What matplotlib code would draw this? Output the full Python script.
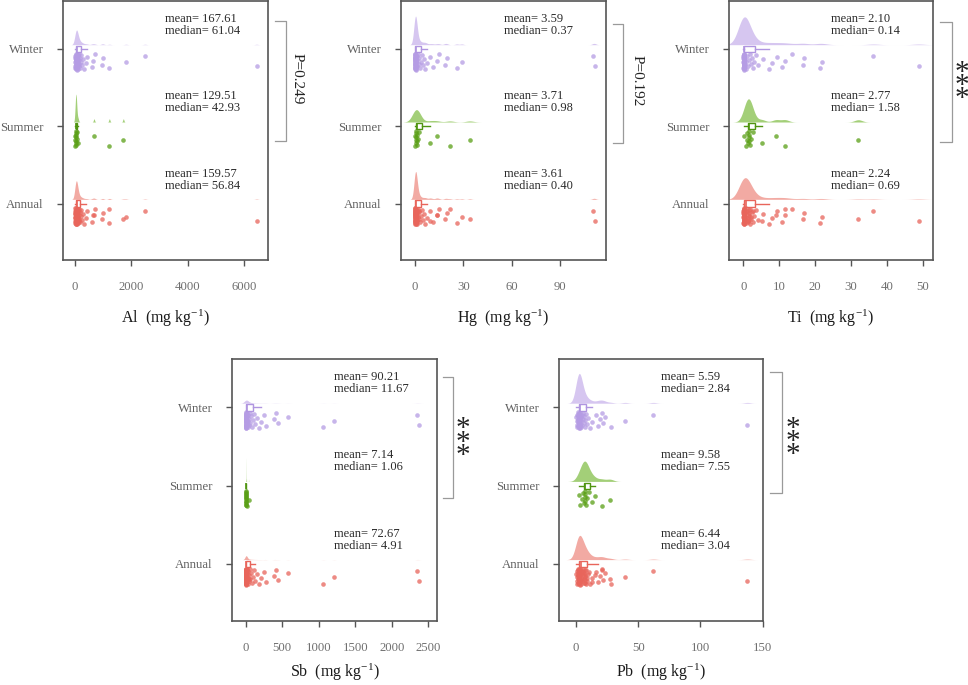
import numpy as np
import matplotlib
matplotlib.use("Agg")
import matplotlib.pyplot as plt
from matplotlib.transforms import blended_transform_factory

plt.rcParams['font.family'] = ['Liberation Serif', 'DejaVu Serif']
plt.rcParams['mathtext.fontset'] = 'custom'
plt.rcParams['mathtext.rm'] = 'Liberation Serif'
plt.rcParams['mathtext.it'] = 'Liberation Serif:italic'

# ---------------- data (read / estimated from the picture) ----------------
groups = ["Annual", "Summer", "Winter"]

al_winter = [5, 8, 12, 15, 18, 20, 22, 25, 28, 30, 33, 35, 38, 40, 42, 45, 48, 50, 52, 55,
             58, 60, 61, 62, 65, 68, 70, 72, 75, 78, 80, 85, 90, 95, 100, 105, 110, 120, 130, 140,
             150, 160, 175, 190, 210, 230, 250, 280, 320, 380, 440, 600, 650, 710, 970, 990,
             1220, 1810, 2485, 6450]
al_summer = [6, 12, 18, 25, 30, 36, 40, 42, 44, 50, 60, 75, 110, 675, 1220, 1716]

hg_winter = [0.01, 0.02, 0.03, 0.05, 0.06, 0.08, 0.09, 0.10, 0.12, 0.13, 0.15, 0.16, 0.18, 0.19,
             0.20, 0.22, 0.23, 0.25, 0.26, 0.28, 0.29, 0.30, 0.31, 0.32, 0.33, 0.34, 0.35, 0.35,
             0.36, 0.37, 0.38, 0.40, 0.45, 0.50, 0.60, 0.70, 0.80, 1.0, 1.2, 1.5, 1.8, 2.2, 2.6,
             3.0, 3.5, 4.2, 5.0, 5.8, 6.5, 7.2, 9.3, 11.0, 13.4, 15.0, 18.6, 19.7, 25.9, 29.0,
             110.7, 111.7]
hg_summer = [0.1, 0.2, 0.4, 0.5, 0.7, 0.8, 0.9, 0.98, 1.0, 1.3, 1.8, 2.5, 9.3, 13.4, 21.7, 34.0]

ti_winter = [0.01, 0.02, 0.02, 0.03, 0.04, 0.04, 0.05, 0.05, 0.06, 0.07, 0.07, 0.08, 0.08, 0.09,
             0.09, 0.10, 0.10, 0.11, 0.11, 0.12, 0.12, 0.12, 0.13, 0.13, 0.13, 0.14, 0.14, 0.14,
             0.14, 0.14, 0.15, 0.2, 0.3, 0.4, 0.5, 0.6, 0.8, 1.0, 1.2, 1.5, 1.8, 2.0, 2.3, 2.6,
             3.0, 3.5, 4.0, 5.6, 7.0, 7.9, 9.3, 10.7, 11.6, 13.5, 16.5, 16.9, 21.4, 21.8, 36.2, 48.8]
ti_summer = [0.3, 0.6, 0.9, 1.1, 1.3, 1.5, 1.55, 1.6, 1.7, 1.9, 2.2, 2.8, 5.1, 9.1, 11.6, 32.0]

sb_winter = [0.3, 0.6, 1.0, 1.5, 2.0, 2.5, 3.0, 3.5, 4.0, 4.5, 5.0, 5.5, 6.0, 6.5, 7.0, 7.5, 8.0,
             8.5, 9.0, 9.5, 10.0, 10.3, 10.6, 10.9, 11.1, 11.3, 11.4, 11.5, 11.6, 11.65, 11.7, 13,
             15, 18, 22, 26, 30, 35, 40, 48, 55, 65, 75, 90, 95, 110, 130, 150, 180, 210, 254,
             276, 387, 409, 445, 578, 1063, 1210, 2344, 2367]
sb_summer = [0.1, 0.2, 0.4, 0.6, 0.8, 0.9, 1.0, 1.05, 1.07, 1.2, 1.5, 2.0, 3.5, 8.0, 25.0, 50.0]

pb_winter = [0.3, 0.5, 0.7, 0.9, 1.0, 1.2, 1.3, 1.5, 1.6, 1.7, 1.8, 1.9, 2.0, 2.1, 2.2, 2.3, 2.4,
             2.5, 2.55, 2.6, 2.65, 2.7, 2.72, 2.75, 2.78, 2.8, 2.82, 2.83, 2.84, 2.84, 2.9, 3.0,
             3.2, 3.4, 3.6, 3.9, 4.2, 4.5, 4.8, 5.2, 5.6, 6.0, 6.5, 7.0, 7.6, 8.2, 9.0, 10.0,
             11.5, 13.0, 16.0, 18.0, 19.3, 20.6, 22.0, 23.3, 27.9, 39.4, 62.1, 137.7]
pb_summer = [2.0, 3.5, 4.5, 5.5, 6.2, 6.8, 7.2, 7.5, 7.6, 8.0, 9.0, 10.5, 12.5, 15.0, 20.6, 27.3]

elements = ["Al", "Hg", "Ti", "Sb", "Pb"]
winter_data = [al_winter, hg_winter, ti_winter, sb_winter, pb_winter]
summer_data = [al_summer, hg_summer, ti_summer, sb_summer, pb_summer]

means = {  # [Annual, Summer, Winter]
    "Al": ["159.57", "129.51", "167.61"],
    "Hg": ["3.61", "3.71", "3.59"],
    "Ti": ["2.24", "2.77", "2.10"],
    "Sb": ["72.67", "7.14", "90.21"],
    "Pb": ["6.44", "9.58", "5.59"],
}
medians = {
    "Al": ["56.84", "42.93", "61.04"],
    "Hg": ["0.40", "0.98", "0.37"],
    "Ti": ["0.69", "1.58", "0.14"],
    "Sb": ["4.91", "1.06", "11.67"],
    "Pb": ["3.04", "7.55", "2.84"],
}
sig_labels = ["P=0.249", "P=0.192", "***", "***", "***"]
x_ticks = [[0, 2000, 4000, 6000], [0, 30, 60, 90], [0, 10, 20, 30, 40, 50],
           [0, 500, 1000, 1500, 2000, 2500], [0, 50, 100, 150]]

# ---------------- styling ----------------
W, H = 968, 685
fig = plt.figure(figsize=(W / 100, H / 100), dpi=100)

axes_px = [(63, 1, 268, 260), (401, 1, 606, 260), (729, 1, 933, 260),
           (232, 359, 437, 621), (559, 359, 763, 621)]
xlims = [(-426, 6856), (-8.7, 118.6), (-4.0, 52.8), (-187, 2620), (-13.7, 150.3)]
# peak heights of the half-violins (data units) for [Annual, Summer, Winter]
peak_h = [[0.24, 0.36, 0.19], [0.36, 0.16, 0.37], [0.28, 0.30, 0.36],
          [0.05, 0.30, 0.04], [0.31, 0.26, 0.38]]
# bandwidth multipliers for [Annual, Summer, Winter]
bw_adj = [[1.0, 1.0, 1.0], [1.0, 1.8, 1.0], [1.8, 1.3, 1.8],
          [1.0, 1.0, 1.0], [1.5, 1.5, 1.5]]
bracket = [(1.088, 1.034, 3.36, 1.81, 1.141, 2.615),
           (1.083, 1.034, 3.32, 1.78, 1.151, 2.59),
           (1.093, 1.034, 3.35, 1.795, 1.143, 2.52),
           (1.078, 1.029, 3.385, 1.846, 1.127, 2.55),
           (1.093, 1.034, 3.45, 1.91, 1.147, 2.56)]

dens_col = ["#f2aaa3", "#a3cf78", "#d6c6f0"]
pt_col = ["#e8655b", "#5a9f16", "#b59ce4"]
box_edge = ["#e8655b", "#4f9410", "#b095e0"]
frame_col = "#555555"


def nrd0(x):
    x = np.asarray(x, float)
    sd = x.std(ddof=1)
    iqr = np.subtract(*np.percentile(x, [75, 25]))
    lo = min(sd, iqr / 1.34) if iqr > 0 else sd
    return 0.9 * lo * len(x) ** (-0.2)


def kde(x, grid, bw):
    x = np.asarray(x, float)
    z = (grid[:, None] - x[None, :]) / bw
    return np.exp(-0.5 * z ** 2).sum(axis=1) / (len(x) * bw * np.sqrt(2 * np.pi))


for k, el in enumerate(elements):
    l, t, r, b = axes_px[k]
    ax = fig.add_axes([l / W, 1 - b / H, (r - l) / W, (b - t) / H])
    w = np.asarray(winter_data[k], float)
    s = np.asarray(summer_data[k], float)
    data = [np.concatenate([w, s]), s, w]
    for gi, vals in enumerate(data):
        y = gi + 1
        bw = nrd0(vals) * bw_adj[k][gi]
        grid = np.linspace(vals.min() - 3 * bw, vals.max() + 3 * bw, 2000)
        d = kde(vals, grid, bw)
        d = d / d.max() * peak_h[k][gi]
        base = y + 0.055
        ax.fill_between(grid, base, base + d, color=dens_col[gi], lw=0, zorder=2)
        bp = ax.boxplot(vals, positions=[y], vert=False, widths=0.08, showfliers=False,
                        showcaps=False, patch_artist=True, manage_ticks=False, whis=1.5)
        for p in bp['boxes']:
            p.set(facecolor=(1, 1, 1, 0.35), edgecolor=box_edge[gi], linewidth=1.0, zorder=4)
        for wl in bp['whiskers']:
            wl.set(color=box_edge[gi], linewidth=1.0, zorder=4)
        for m in bp['medians']:
            m.set(color=box_edge[gi], linewidth=1.2, zorder=4)
        n = len(vals)
        jit = (np.arange(n) * 0.61803398875 + 0.3) % 1.0
        ax.scatter(vals, y - 0.06 - 0.21 * jit, s=11, color=pt_col[gi], alpha=0.75,
                   linewidths=0, zorder=3)
        ax.text(0.5, y + 0.31, f"mean= {means[el][gi]}\nmedian= {medians[el][gi]}",
                transform=blended_transform_factory(ax.transAxes, ax.transData),
                ha='left', va='center', fontsize=9, color='#2a2a2a', linespacing=1.0)

    ax.set_xlim(*xlims[k])
    ax.set_ylim(0.27, 3.62)
    ax.set_xticks(x_ticks[k])
    ax.set_yticks([1, 2, 3])
    ax.set_yticklabels(groups)
    for sp in ax.spines.values():
        sp.set_color(frame_col)
        sp.set_linewidth(1.2)
    ax.tick_params(axis='x', length=4, width=1, color=frame_col, pad=11,
                   labelsize=9.2, labelcolor='#707070')
    ax.tick_params(axis='y', length=4, width=1, color=frame_col, pad=10,
                   labelsize=9.2, labelcolor='#606060')
    ax.set_xlabel(el + r"  (mg kg$^{\mathregular{-1}}$)", fontsize=11.5,
                  color='#1a1a1a', labelpad=11 if k < 3 else 6)

    xl, xe, yt, yb, tx, ty = bracket[k]
    tr = blended_transform_factory(ax.transAxes, ax.transData)
    ax.plot([xe, xl, xl, xe], [yt, yt, yb, yb], color='#9a9a9a', lw=0.9,
            transform=tr, clip_on=False)
    if sig_labels[k].startswith("P"):
        ax.text(tx, ty, sig_labels[k], transform=tr, rotation=-90, ha='center',
                va='center', fontsize=11, color='#222222')
    else:
        stars = "\n".join(list(sig_labels[k]))
        ax.text(tx, ty, stars, transform=tr, ha='center', va='center',
                fontsize=21, color='#222222', linespacing=0.36)

fig.savefig("out.png", dpi=100)
